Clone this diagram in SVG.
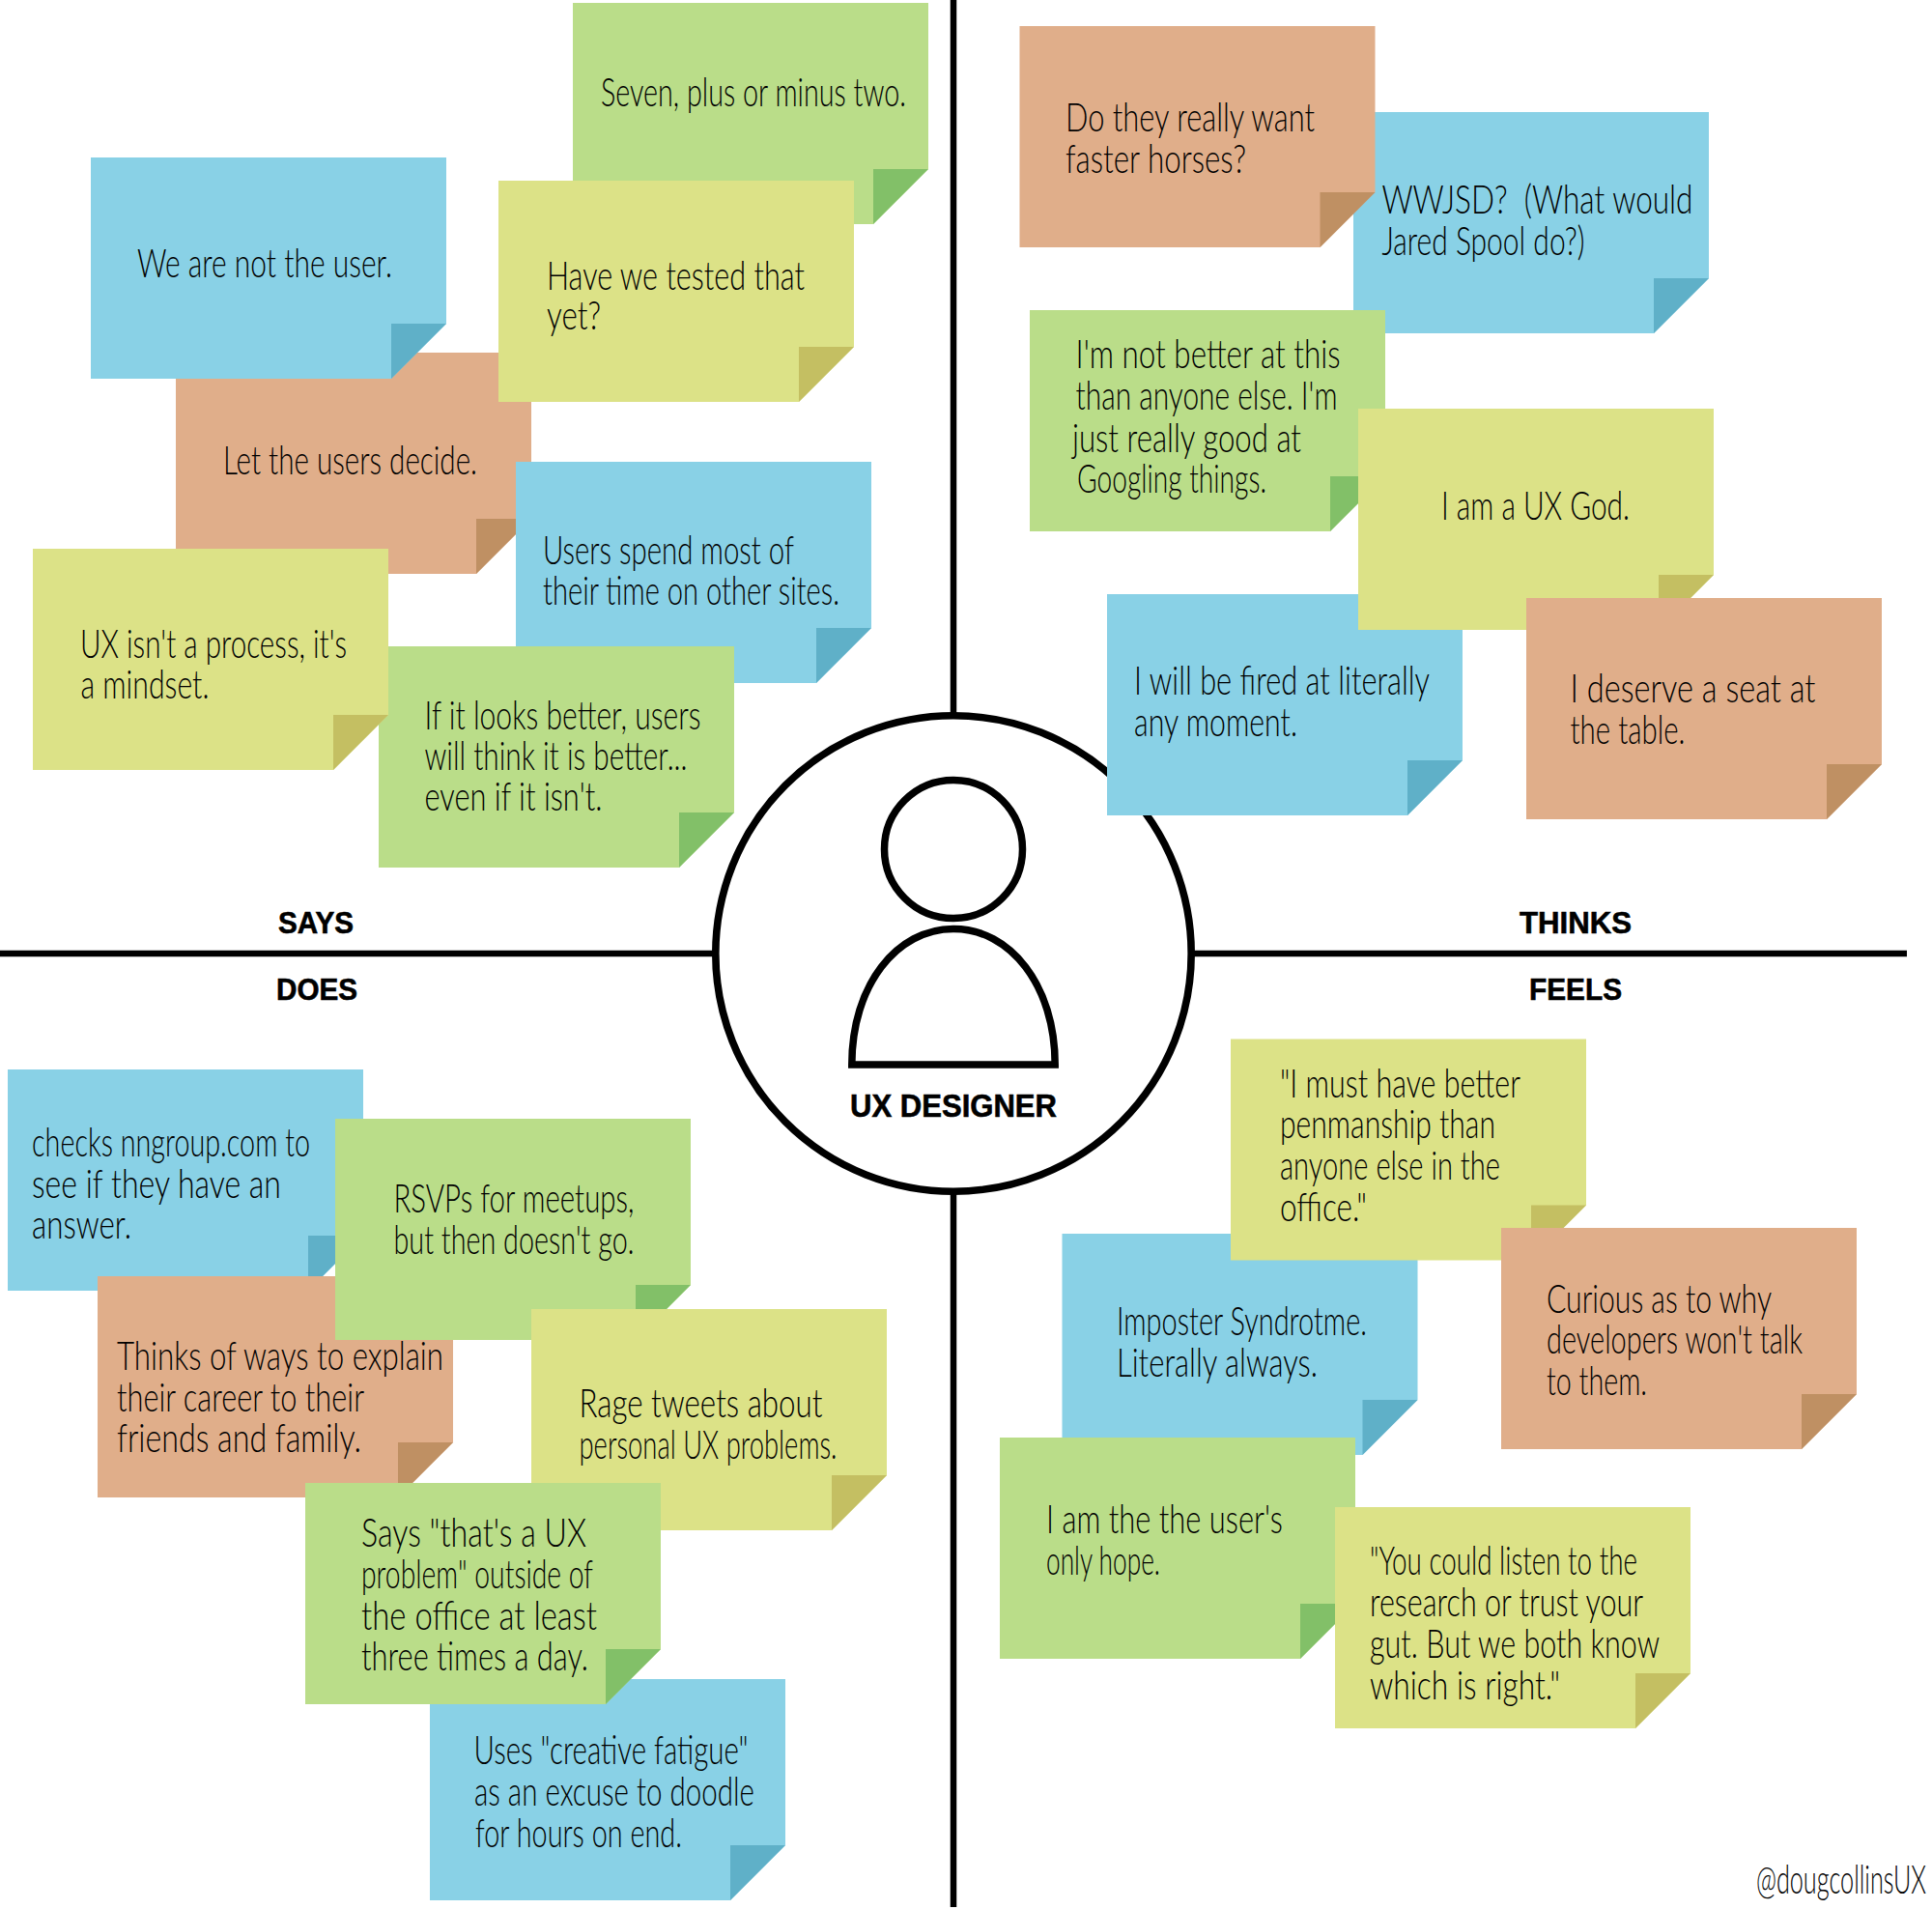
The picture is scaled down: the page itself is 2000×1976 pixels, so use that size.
<svg xmlns="http://www.w3.org/2000/svg" width="2000" height="1976" viewBox="0 0 2000 1976">
<style>
.bg{fill:#fff}
.axis{stroke:#000;stroke-width:6.5;fill:none}
.ring{stroke:#000;stroke-width:7.6;fill:#fff}
.fig{stroke:#000;stroke-width:7.5;fill:#fff}
text{fill:#000}
.n text,.hand{font-family:"Lato","Open Sans","Liberation Sans",sans-serif;font-weight:300;font-size:42px}
.lab{font-family:"Liberation Sans",Arial,sans-serif;font-weight:700;font-size:31px;fill:#000;stroke:#000;stroke-width:.6;text-anchor:middle}
.big{font-size:33px}
.blue .b{fill:#89d1e6}.blue .f{fill:#5fb0c8}
.green .b{fill:#badd89}.green .f{fill:#82c068}
.yellow .b{fill:#dce287}.yellow .f{fill:#c4bf62}
.tan .b{fill:#e0ae8a}.tan .f{fill:#bf9063}
</style>
<defs>
<polygon id="body" points="0,0 368,0 368,172 311,229 0,229"/>
<polygon id="fold" points="311,172 368,172 311,229"/>
</defs>
<rect class="bg" width="2000" height="1976"/>
<g id="connectors">
<line class="axis" x1="987" y1="0" x2="987" y2="1974"/>
<line class="axis" x1="0" y1="987" x2="1974" y2="987"/>
</g>
<g id="center">
<circle class="ring" cx="987" cy="987" r="246.200"/>
<circle class="fig" cx="987" cy="879" r="71.500"/>
<path class="fig" d="M881.800,1102 C881.800,1020 928,961.400 987,961.400 C1046,961.400 1092.200,1020 1092.200,1102 Z"/>
<text class="lab big" x="987" y="1155.500" textLength="214" lengthAdjust="spacingAndGlyphs">UX DESIGNER</text>
</g>
<g id="labels">
<text class="lab" x="327" y="966" textLength="78" lengthAdjust="spacingAndGlyphs">SAYS</text>
<text class="lab" x="1631" y="966" textLength="116" lengthAdjust="spacingAndGlyphs">THINKS</text>
<text class="lab" x="328" y="1035" textLength="84" lengthAdjust="spacingAndGlyphs">DOES</text>
<text class="lab" x="1631" y="1035" textLength="96" lengthAdjust="spacingAndGlyphs">FEELS</text>
</g>
<g id="says">
<g id="n-seven" class="n green"><use class="b" href="#body" x="593" y="3"/><use class="f" href="#fold" x="593" y="3"/><text x="622" y="110" textLength="316" lengthAdjust="spacingAndGlyphs">Seven, plus or minus two.</text></g>
<g id="n-let" class="n tan"><use class="b" href="#body" x="182" y="365"/><use class="f" href="#fold" x="182" y="365"/><text x="231" y="491" textLength="263" lengthAdjust="spacingAndGlyphs">Let the users decide.</text></g>
<g id="n-notuser" class="n blue"><use class="b" href="#body" x="94" y="163"/><use class="f" href="#fold" x="94" y="163"/><text x="142" y="287" textLength="264" lengthAdjust="spacingAndGlyphs">We are not the user.</text></g>
<g id="n-tested" class="n yellow"><use class="b" href="#body" x="516" y="187"/><use class="f" href="#fold" x="516" y="187"/><text x="566" y="300" textLength="267" lengthAdjust="spacingAndGlyphs">Have we tested that</text><text x="566" y="341" textLength="56" lengthAdjust="spacingAndGlyphs">yet?</text></g>
<g id="n-sites" class="n blue"><use class="b" href="#body" x="534" y="478"/><use class="f" href="#fold" x="534" y="478"/><text x="562" y="583.500" textLength="260" lengthAdjust="spacingAndGlyphs">Users spend most of</text><text x="562" y="626" textLength="307" lengthAdjust="spacingAndGlyphs">their time on other sites.</text></g>
<g id="n-better" class="n green"><use class="b" href="#body" x="392" y="669"/><use class="f" href="#fold" x="392" y="669"/><text x="439.500" y="754.500" textLength="286" lengthAdjust="spacingAndGlyphs">If it looks better, users</text><text x="439.500" y="797" textLength="272" lengthAdjust="spacingAndGlyphs">will think it is better...</text><text x="439.500" y="839" textLength="184" lengthAdjust="spacingAndGlyphs">even if it isn't.</text></g>
<g id="n-mindset" class="n yellow"><use class="b" href="#body" x="34" y="568"/><use class="f" href="#fold" x="34" y="568"/><text x="83" y="681" textLength="276" lengthAdjust="spacingAndGlyphs">UX isn't a process, it's</text><text x="83.500" y="723" textLength="133" lengthAdjust="spacingAndGlyphs">a mindset.</text></g>
</g>
<g id="thinks">
<g id="n-jared" class="n blue"><use class="b" href="#body" x="1401" y="116"/><use class="f" href="#fold" x="1401" y="116"/><text x="1430.500" y="221" textLength="322" lengthAdjust="spacingAndGlyphs" xml:space="preserve">WWJSD?  (What would</text><text x="1430.500" y="264" textLength="210" lengthAdjust="spacingAndGlyphs">Jared Spool do?)</text></g>
<g id="n-horses" class="n tan"><use class="b" href="#body" x="1055.500" y="27"/><use class="f" href="#fold" x="1055.500" y="27"/><text x="1103" y="136" textLength="258" lengthAdjust="spacingAndGlyphs">Do they really want</text><text x="1103" y="178.500" textLength="187" lengthAdjust="spacingAndGlyphs">faster horses?</text></g>
<g id="n-googling" class="n green"><use class="b" href="#body" x="1066" y="321"/><use class="f" href="#fold" x="1066" y="321"/><text x="1113.500" y="381" textLength="274" lengthAdjust="spacingAndGlyphs">I'm not better at this</text><text x="1113.500" y="424" textLength="271" lengthAdjust="spacingAndGlyphs">than anyone else. I'm</text><text x="1110" y="467.500" textLength="237" lengthAdjust="spacingAndGlyphs">just really good at</text><text x="1115" y="510" textLength="196" lengthAdjust="spacingAndGlyphs">Googling things.</text></g>
<g id="n-fired" class="n blue"><use class="b" href="#body" x="1146" y="615"/><use class="f" href="#fold" x="1146" y="615"/><text x="1174" y="719" textLength="306" lengthAdjust="spacingAndGlyphs">I will be fired at literally</text><text x="1174" y="762" textLength="169" lengthAdjust="spacingAndGlyphs">any moment.</text></g>
<g id="n-god" class="n yellow"><use class="b" href="#body" x="1406" y="423"/><use class="f" href="#fold" x="1406" y="423"/><text x="1492" y="538" textLength="195" lengthAdjust="spacingAndGlyphs">I am a UX God.</text></g>
<g id="n-seat" class="n tan"><use class="b" href="#body" x="1580" y="619"/><use class="f" href="#fold" x="1580" y="619"/><text x="1625.500" y="727" textLength="254" lengthAdjust="spacingAndGlyphs">I deserve a seat at</text><text x="1625.500" y="770" textLength="119" lengthAdjust="spacingAndGlyphs">the table.</text></g>
</g>
<g id="does">
<g id="n-checks" class="n blue"><use class="b" href="#body" x="8" y="1107"/><use class="f" href="#fold" x="8" y="1107"/><text x="33" y="1196.500" textLength="288" lengthAdjust="spacingAndGlyphs">checks nngroup.com to</text><text x="33" y="1239.500" textLength="258" lengthAdjust="spacingAndGlyphs">see if they have an</text><text x="33" y="1282" textLength="103" lengthAdjust="spacingAndGlyphs">answer.</text></g>
<g id="n-explain" class="n tan"><use class="b" href="#body" x="101" y="1321"/><use class="f" href="#fold" x="101" y="1321"/><text x="121" y="1418" textLength="338" lengthAdjust="spacingAndGlyphs">Thinks of ways to explain</text><text x="121" y="1461" textLength="256" lengthAdjust="spacingAndGlyphs">their career to their</text><text x="121" y="1503" textLength="253" lengthAdjust="spacingAndGlyphs">friends and family.</text></g>
<g id="n-rsvp" class="n green"><use class="b" href="#body" x="347" y="1158"/><use class="f" href="#fold" x="347" y="1158"/><text x="407.500" y="1255" textLength="249" lengthAdjust="spacingAndGlyphs">RSVPs for meetups,</text><text x="407.500" y="1298" textLength="249" lengthAdjust="spacingAndGlyphs">but then doesn't go.</text></g>
<g id="n-rage" class="n yellow"><use class="b" href="#body" x="550" y="1355"/><use class="f" href="#fold" x="550" y="1355"/><text x="599.500" y="1467" textLength="252" lengthAdjust="spacingAndGlyphs">Rage tweets about</text><text x="599.500" y="1510" textLength="267" lengthAdjust="spacingAndGlyphs">personal UX problems.</text></g>
<g id="n-fatigue" class="n blue"><use class="b" href="#body" x="445" y="1738"/><use class="f" href="#fold" x="445" y="1738"/><text x="490.500" y="1826" textLength="284" lengthAdjust="spacingAndGlyphs">Uses "creative fatigue"</text><text x="491" y="1869" textLength="290" lengthAdjust="spacingAndGlyphs">as an excuse to doodle</text><text x="492" y="1911.500" textLength="214" lengthAdjust="spacingAndGlyphs">for hours on end.</text></g>
<g id="n-saysux" class="n green"><use class="b" href="#body" x="316" y="1535"/><use class="f" href="#fold" x="316" y="1535"/><text x="374" y="1601" textLength="233" lengthAdjust="spacingAndGlyphs">Says "that's a UX</text><text x="374" y="1644" textLength="240" lengthAdjust="spacingAndGlyphs">problem" outside of</text><text x="374" y="1686.500" textLength="244" lengthAdjust="spacingAndGlyphs">the office at least</text><text x="374" y="1729" textLength="235" lengthAdjust="spacingAndGlyphs">three times a day.</text></g>
</g>
<g id="feels">
<g id="n-imposter" class="n blue"><use class="b" href="#body" x="1099.500" y="1277"/><use class="f" href="#fold" x="1099.500" y="1277"/><text x="1156" y="1382" textLength="259" lengthAdjust="spacingAndGlyphs">Imposter Syndrotme.</text><text x="1156" y="1425" textLength="208" lengthAdjust="spacingAndGlyphs">Literally always.</text></g>
<g id="n-penmanship" class="n yellow"><use class="b" href="#body" x="1274" y="1075.500"/><use class="f" href="#fold" x="1274" y="1075.500"/><text x="1325" y="1135.500" textLength="249" lengthAdjust="spacingAndGlyphs">"I must have better</text><text x="1325" y="1178" textLength="223" lengthAdjust="spacingAndGlyphs">penmanship than</text><text x="1325" y="1221" textLength="228" lengthAdjust="spacingAndGlyphs">anyone else in the</text><text x="1325" y="1263.500" textLength="90" lengthAdjust="spacingAndGlyphs">office."</text></g>
<g id="n-curious" class="n tan"><use class="b" href="#body" x="1554" y="1271"/><use class="f" href="#fold" x="1554" y="1271"/><text x="1601" y="1358.500" textLength="233" lengthAdjust="spacingAndGlyphs">Curious as to why</text><text x="1601" y="1401" textLength="265" lengthAdjust="spacingAndGlyphs">developers won't talk</text><text x="1601" y="1444" textLength="104" lengthAdjust="spacingAndGlyphs">to them.</text></g>
<g id="n-hope" class="n green"><use class="b" href="#body" x="1035" y="1488"/><use class="f" href="#fold" x="1035" y="1488"/><text x="1083" y="1587" textLength="245" lengthAdjust="spacingAndGlyphs">I am the the user's</text><text x="1083" y="1630" textLength="118" lengthAdjust="spacingAndGlyphs">only hope.</text></g>
<g id="n-gut" class="n yellow"><use class="b" href="#body" x="1382" y="1560"/><use class="f" href="#fold" x="1382" y="1560"/><text x="1418" y="1630" textLength="277" lengthAdjust="spacingAndGlyphs">"You could listen to the</text><text x="1418" y="1672.500" textLength="283" lengthAdjust="spacingAndGlyphs">research or trust your</text><text x="1418" y="1716" textLength="300" lengthAdjust="spacingAndGlyphs">gut. But we both know</text><text x="1418" y="1758.500" textLength="197" lengthAdjust="spacingAndGlyphs">which is right."</text></g>
</g>
<text class="hand" x="1818" y="1960" textLength="176" lengthAdjust="spacingAndGlyphs">@dougcollinsUX</text>
</svg>
